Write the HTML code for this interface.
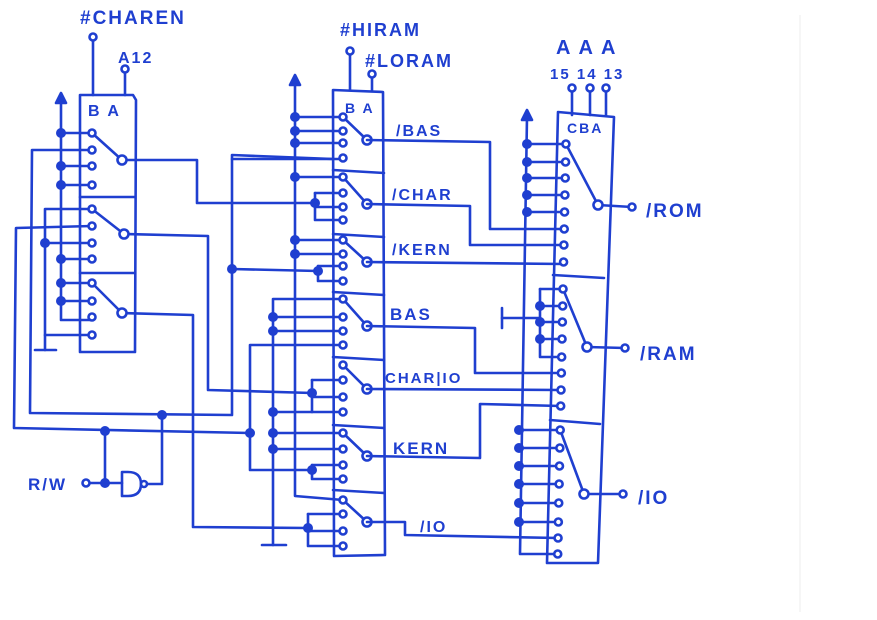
<!DOCTYPE html>
<html><head><meta charset="utf-8"><style>
html,body{margin:0;padding:0;background:#fff;width:877px;height:620px;overflow:hidden}
svg text{font-family:"Liberation Sans",sans-serif;fill:#1f3fd0;font-weight:bold;letter-spacing:2px}
</style></head><body>
<svg id="s" width="877" height="620" viewBox="0 0 877 620" xmlns="http://www.w3.org/2000/svg">
<line x1="800" y1="15" x2="800" y2="612" stroke="#eee" stroke-width="1"/>
<g id="g" stroke="#1f3fd0" stroke-width="2.6" fill="none" stroke-linejoin="round" stroke-linecap="round">
<path d="M122,472 L128,472 Q141,472 141,484 Q141,496 128,496 L122,496 Z"/>
</g>
<text x="80" y="24" font-size="19">#CHAREN</text>
<text x="118" y="63" font-size="16">A12</text>
<text x="88" y="116" font-size="16">B  A</text>
<text x="340" y="36" font-size="18">#HIRAM</text>
<text x="365" y="67" font-size="18">#LORAM</text>
<text x="345" y="113" font-size="14">B A</text>
<text x="556" y="54" font-size="20">A  A  A</text>
<text x="550" y="79" font-size="15" letter-spacing="0">15 14 13</text>
<text x="567" y="133" font-size="14">CBA</text>
<text x="396" y="136" font-size="16">/BAS</text>
<text x="392" y="200" font-size="16">/CHAR</text>
<text x="392" y="255" font-size="16">/KERN</text>
<text x="390" y="320" font-size="17">BAS</text>
<text x="385" y="383" font-size="15">CHAR|IO</text>
<text x="393" y="454" font-size="17">KERN</text>
<text x="420" y="532" font-size="16">/IO</text>
<text x="646" y="217" font-size="19">/ROM</text>
<text x="640" y="360" font-size="19">/RAM</text>
<text x="638" y="504" font-size="19">/IO</text>
<text x="28" y="490" font-size="17">R/W</text>
</svg>
<script>
var g=document.getElementById('g'),NS='http://www.w3.org/2000/svg';
function L(p){var e=document.createElementNS(NS,'polyline');e.setAttribute('points',p);g.appendChild(e);}
function P(x,y,r){var e=document.createElementNS(NS,'circle');e.setAttribute('cx',x);e.setAttribute('cy',y);e.setAttribute('r',r||3.5);e.setAttribute('fill','#fff');g.appendChild(e);}
function D(x,y){var e=document.createElementNS(NS,'circle');e.setAttribute('cx',x);e.setAttribute('cy',y);e.setAttribute('r',5);e.setAttribute('fill','#1f3fd0');e.setAttribute('stroke','none');g.appendChild(e);}
function A(x,y){var e=document.createElementNS(NS,'polygon');e.setAttribute('points',(x-5)+','+(y+10)+' '+x+','+y+' '+(x+5)+','+(y+10));e.setAttribute('fill','#1f3fd0');g.appendChild(e);}
// LEFT chip
L('80,95 133,95 136,100 135,352 80,352 80,95');
L('80,197 135,197');L('80,273 134,273');
L('93,40 93,95');P(93,37);L('125,72 125,95');P(125,69);
L('61,100 61,320 92,320');A(61,93);
var ls=[[133,150,166,185,122,160],[209,226,243,259,124,234],[283,301,317,335,122,313]];
ls.forEach(function(s){L('92,'+s[0]+' '+s[4]+','+s[5]);});
[133,166,185,259,283,301].forEach(function(y){L('61,'+y+' 92,'+y);D(61,y);});
L('92,150 32,150 30,413 232,415 232,155 333,159');
L('92,226 16,228 14,428 250,433');
L('92,209 45,209 45,350');L('35,350 56,350');D(45,243);L('45,243 92,243');L('45,335 92,335');
D(162,415);D(105,431);L('105,431 105,483');L('86,483 122,483');D(105,483);P(86,483);
P(144,484,3);L('147,484 162,484 162,415');
L('122,160 197,160 197,203 315,203');
L('124,234 208,236 208,390 312,393');
L('122,313 193,315 193,527 308,528');
ls.forEach(function(s){for(var i=0;i<4;i++)P(92,s[i]);P(s[4],s[5],4.5);});
// MIDDLE chip
L('333,90 383,92 385,555 334,556 333,90');
L('350,54 350,90');P(350,51);L('372,77 372,90');P(372,74);
var ms=[[117,131,143,158,367,140],[177,193,207,220,367,204],[240,254,266,281,367,262],[299,317,331,345,367,326],[365,380,397,412,367,389],[433,449,465,479,367,456],[500,514,531,546,367,522]];
[170,234,292,357,425,490].forEach(function(y){L('333,'+y+' 384,'+(y+3));});
ms.forEach(function(s){L('343,'+s[0]+' '+s[4]+','+s[5]);});
L('295,82 295,496 343,500');A(295,75);
[117,131,143,177,240,254].forEach(function(y){L('295,'+y+' 343,'+y);D(295,y);});
L('232,159 343,159');
L('315,193 343,193');L('315,193 315,220 343,220');L('315,207 343,207');D(315,203);
L('232,269 318,271');D(232,269);L('318,266 343,266');L('318,266 318,281 343,281');D(318,271);
L('273,545 273,299 343,299');L('262,545 286,545');
[317,331,412].forEach(function(y){L('273,'+y+' 343,'+y);D(273,y);});
L('250,433 250,345 343,345');D(250,433);
L('312,380 343,380');L('312,380 312,412');L('312,397 343,397');D(312,393);
[433,449].forEach(function(y){L('273,'+y+' 343,'+y);D(273,y);});
L('250,433 250,470 312,470');L('312,465 343,465');L('312,465 312,479 343,479');D(312,470);
L('308,514 343,514');L('308,514 308,546 343,546');L('308,531 343,531');D(308,528);
ms.forEach(function(s){for(var i=0;i<4;i++)P(343,s[i]);P(s[4],s[5],4.5);});
// RIGHT chip
L('558,112 614,117 598,563 547,563 558,112');
L('553,275 604,278');L('550,420 600,424');
[572,590,606].forEach(function(x){L(x+',92 '+x+',115');P(x,88);});
var r1=[144,162,178,195,212,229,245,262],r2=[289,306,322,339,357,373,390,406],r3=[430,448,466,484,503,522,538,554];
function rx(y){return 566-(y-140)*0.02;}
L('527,117 520,554 558,554');A(527,110);
[144,162,178,195,212].forEach(function(y){L('527,'+y+' '+rx(y)+','+y);D(527,y);});
[430,448,466,484,503,522].forEach(function(y){L('519,'+y+' '+rx(y)+','+y);D(519,y);});
L('367,140 490,142 490,229 '+rx(229)+',229');
L('367,204 470,206 470,245 '+rx(245)+',245');
L('367,262 '+rx(262)+',264');
L('367,326 475,328 475,373 '+rx(373)+',373');
L('367,389 '+rx(390)+',390');
L('367,456 480,458 480,404 '+rx(406)+',406');
L('367,522 405,522 405,535 '+rx(538)+',538');
L('540,289 '+rx(289)+',289');L('540,289 540,357 '+rx(357)+',357');
[306,322,339].forEach(function(y){L('540,'+y+' '+rx(y)+','+y);D(540,y);});
L('502,318 540,318');L('502,308 502,328');
L(rx(144)+',144 598,205 632,207');L(rx(289)+',289 587,347 625,348');L(rx(430)+',430 584,494 623,494');
r1.concat(r2,r3).forEach(function(y){P(rx(y),y);});
P(598,205,4.5);P(632,207);P(587,347,4.5);P(625,348);P(584,494,4.5);P(623,494);
</script>
</body></html>
